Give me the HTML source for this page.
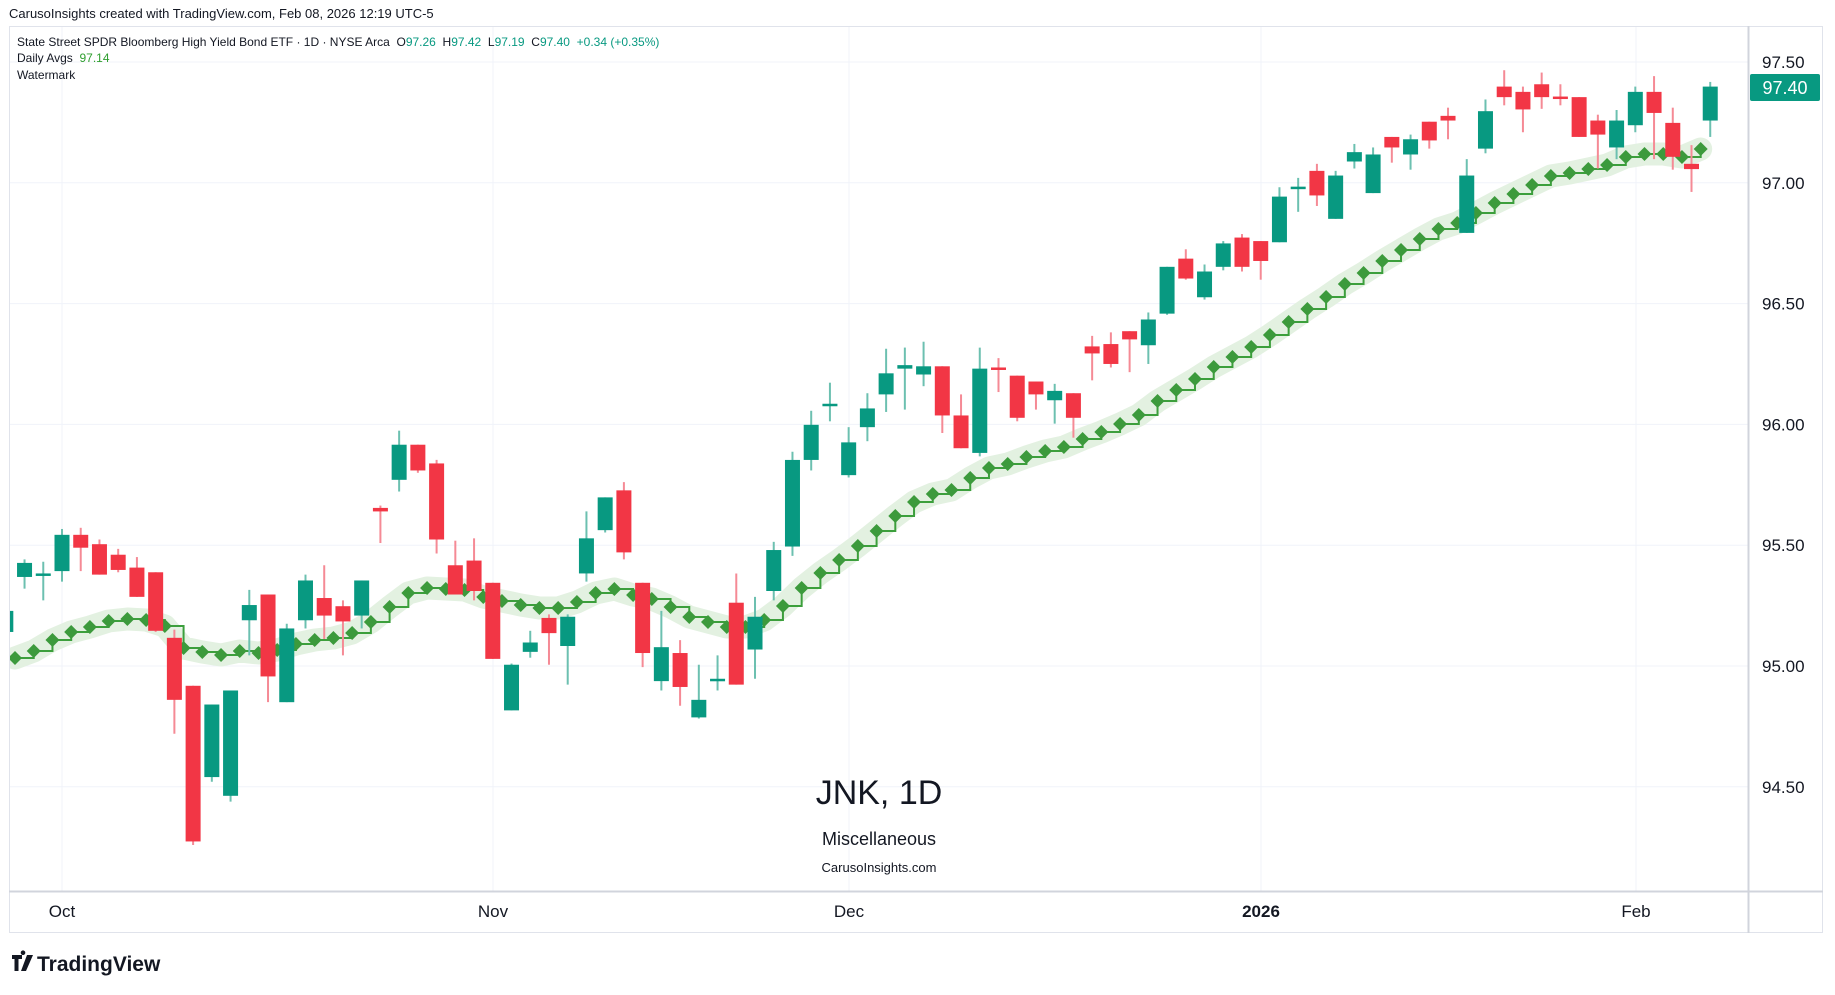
<!DOCTYPE html>
<html><head><meta charset="utf-8">
<style>
html,body{margin:0;padding:0;background:#fff;width:1835px;height:995px;overflow:hidden;font-family:"Liberation Sans",sans-serif;}
</style></head>
<body>
<svg id="c" width="1835" height="995" xmlns="http://www.w3.org/2000/svg" font-family="Liberation Sans, sans-serif">
<rect x="0" y="0" width="1835" height="995" fill="#fff"/>
<text x="9" y="18" font-size="13" fill="#131722">CarusoInsights created with TradingView.com, Feb 08, 2026 12:19 UTC-5</text>
<rect x="9.5" y="26.5" width="1813" height="906" fill="none" stroke="#e0e3eb"/>
<g id="grid" stroke="#f0f3fa" stroke-width="1"></g>
<g id="wm" text-anchor="middle" fill="#131722">
<text x="879" y="804" font-size="34">JNK, 1D</text>
<text x="879" y="845" font-size="18">Miscellaneous</text>
<text x="879" y="872" font-size="13">CarusoInsights.com</text>
</g>
<defs><clipPath id="pc"><rect x="10" y="27" width="1738" height="864"/></clipPath></defs>
<g id="plot" clip-path="url(#pc)"></g>
<line x1="1748.5" y1="26" x2="1748.5" y2="933" stroke="#d1d4dc" stroke-width="2"/>
<line x1="9" y1="891.5" x2="1823" y2="891.5" stroke="#d1d4dc" stroke-width="2"/>
<g id="axis" font-size="17" fill="#131722"></g>
<text x="17" y="46" font-size="12" fill="#131722" xml:space="preserve">State Street SPDR Bloomberg High Yield Bond ETF · 1D · NYSE Arca  O<tspan fill="#089981">97.26</tspan>  H<tspan fill="#089981">97.42</tspan>  L<tspan fill="#089981">97.19</tspan>  C<tspan fill="#089981">97.40</tspan>  <tspan fill="#089981">+0.34 (+0.35%)</tspan></text>
<text x="17" y="62" font-size="12" fill="#131722" xml:space="preserve">Daily Avgs  <tspan fill="#2e9e2e">97.14</tspan></text>
<text x="17" y="79" font-size="12" fill="#131722">Watermark</text>
<rect x="1750" y="74" width="70" height="27" rx="2" fill="#089981"/>
<text x="1785" y="94" font-size="18" fill="#fff" text-anchor="middle">97.40</text>
<g transform="translate(12,953)">
<path d="M0 2h10v4h-3.5v12h-4V6H0z M11 2 a2.3 2.3 0 1 1 0.01 0z" fill="#131722"/>
<path d="M15 2h6l-7 16h-5z" fill="#131722"/>
</g>
<text x="37" y="971" font-size="21" font-weight="bold" fill="#131722">TradingView</text>
</svg>
<script>
const S=1.1703, NS="http://www.w3.org/2000/svg";
function el(t,a,p){const e=document.createElementNS(NS,t);for(const k in a)e.setAttribute(k,a[k]);p.appendChild(e);return e;}
const grid=document.getElementById('grid'),axis=document.getElementById('axis'),plot=document.getElementById('plot');
const prices=["97.50","97.00","96.50","96.00","95.50","95.00","94.50"];
prices.forEach((p,k)=>{const y=62+k*120.8;el('line',{x1:10,y1:y,x2:1748,y2:y},grid);
 const t=el('text',{x:1762,y:y+6},axis);t.textContent=p;});
const months=[["Oct",62],["Nov",493],["Dec",849],["2026",1261],["Feb",1636]];
months.forEach(([m,x])=>{el('line',{x1:x,y1:27,x2:x,y2:891},grid);
 const t=el('text',{x:x,y:917,'text-anchor':'middle','font-weight':m=="2026"?'bold':'normal'},axis);t.textContent=m;});
const C=[[-3,'g',522,540,518,545],[-2,'g',481,493,478,503],[-1,'g',490,492,480,513],[0,'g',457,488,452,497],[1,'r',457,468,451,488],[2,'r',465,491,461,491],[3,'r',474,487,469,489],[4,'r',485,510,476,510],[5,'r',489,539,489,540],[6,'r',545,598,538,627],[7,'r',586,719,586,722],[8,'g',602,664,602,668],[9,'g',590,680,590,685],[10,'g',517,530,504,560],[11,'r',508,578,508,600],[12,'g',537,600,533,600],[13,'g',496,530,491,537],[14,'r',511,526,483,546],[15,'r',518,531,513,560],[16,'g',496,526,496,537],[17,'r',434,437,432,464],[18,'g',380,410,368,420],[19,'r',380,402,380,404],[20,'r',396,461,393,473],[21,'r',483,508,462,508],[22,'r',479,505,460,513],[23,'r',498,563,498,563],[24,'g',568,607,567,607],[25,'g',549,557,539,562],[26,'r',528,541,525,568],[27,'g',527,552,525,585],[28,'g',460,490,437,497],[29,'g',425,453,425,455],[30,'r',419,472,412,478],[31,'r',498,558,498,570],[32,'g',553,582,522,590],[33,'r',558,587,547,603],[34,'g',598,613,568,614],[35,'g',580,582,560,590],[36,'r',515,585,490,585],[37,'g',527,555,510,580],[38,'g',470,505,463,513],[39,'g',393,467,386,475],[40,'g',363,393,351,402],[41,'g',345,347,327,360],[42,'g',378,406,365,408],[43,'g',349,365,336,377],[44,'g',319,337,298,352],[45,'g',312,315,297,350],[46,'g',313,320,292,330],[47,'r',313,355,313,370],[48,'r',355,383,337,383],[49,'g',315,387,297,390],[50,'r',314,316,306,335],[51,'r',321,357,321,360],[52,'r',326,337,326,350],[53,'g',334,342,328,362],[54,'r',336,357,336,374],[55,'r',296,302,287,325],[56,'r',294,311,284,314],[57,'r',283,290,283,318],[58,'g',273,295,267,311],[59,'g',228,268,228,269],[60,'r',221,238,213,239],[61,'g',232,254,226,256],[62,'g',208,228,206,231],[63,'r',203,228,200,232],[64,'r',206,223,206,239],[65,'g',168,207,160,207],[66,'g',159.5,161.5,152,181],[67,'r',146,167,140,176],[68,'g',150,187,146,187],[69,'g',130,138,123,144],[70,'g',132,165,126,165],[71,'r',117,126,117,139],[72,'g',119,132,115,145],[73,'r',104,120,104,127],[74,'r',99,103,92,119],[75,'g',150,199,136,199],[76,'g',95,127,85,131],[77,'r',74,83,60,90],[78,'r',78.5,93.5,74,113],[79,'r',72,83,62,93],[80,'r',82.5,84.5,72,90],[81,'r',83,117,83,117],[82,'r',103,115,98,144],[83,'g',103,126,94,136],[84,'g',78.5,107,74,113],[85,'r',78.5,96.5,65,136],[86,'r',105,134,92,145],[87,'r',140,144.5,124,164],[88,'g',74,103,70,117]];
const A=[658,651,640,632,627,621,619,620,626,648,652,655,651,653,650,644,640,638,633,622,607,593,588,589,590,597,
601,605,608,608,602,593,589,595,599,607,617,622,627,627,620,606,588,573,560,546,531,516,502,494,490,478,
468,464,457,451,447,439,432,424,415,401,390,379,367,357,347,335,
322,309,297,284,273,261,250,239,229,223,213,203,194,185,176,173,169,165,157,154,154,157,149];
const ax=k=>15+k*18.73;
let halo="M"+ax(0)+" "+A[0];A.forEach((y,k)=>{if(k)halo+=" L"+ax(k)+" "+y;});
el('path',{d:halo,fill:'none',stroke:'#e3f1e1',"stroke-width":23,"stroke-linejoin":"round","stroke-linecap":"round"},plot);
let st="M"+ax(0)+" "+A[0];A.forEach((y,k)=>{if(k)st+=" H"+ax(k)+" V"+y;});
el('path',{d:st,fill:'none',stroke:'#3c9f3c',"stroke-width":2},plot);
A.forEach((y,k)=>{const x=ax(k);el('path',{d:`M${x-7} ${y}L${x} ${y-7}L${x+7} ${y}L${x} ${y+7}Z`,fill:'#3c9a3c'},plot);});
C.forEach(([i,c,bt,bb,wh,wl])=>{const x=62+i*18.73,col=c=='g'?'#089981':'#f23645',wc=c=='g'?'#6cc0b0':'#f58a95';
 el('line',{x1:x,y1:wh*S,x2:x,y2:wl*S,stroke:wc,"stroke-width":2},plot);
 const t=bt*S,b=Math.max(bb*S,t+2.5);
 el('rect',{x:x-7.5,y:t,width:15,height:b-t,fill:col},plot);});
</script>
</body></html>
